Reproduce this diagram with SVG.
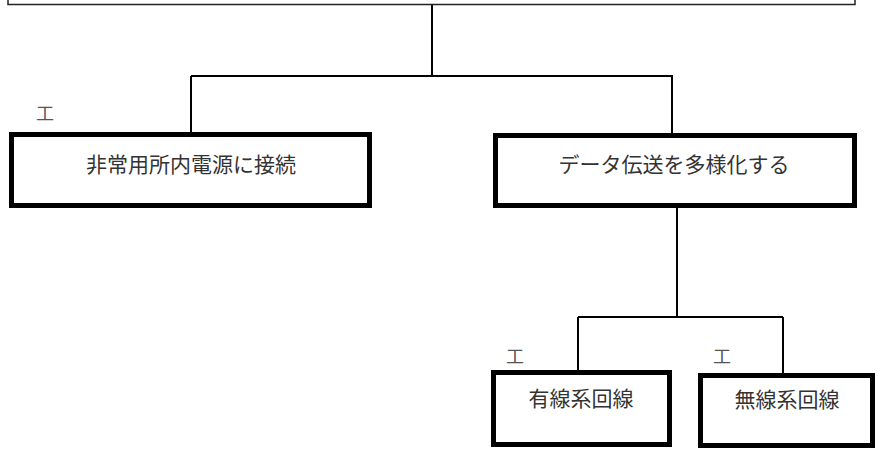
<svg xmlns="http://www.w3.org/2000/svg" width="878" height="450" viewBox="0 0 878 450">
<style>
.bg{fill:#fff}
.top{fill:#fff;stroke:#222;stroke-width:1.5}
.box{fill:#fff;stroke:#000;stroke-width:5}
.con{fill:none;stroke:#000;stroke-width:2}
.t{font-family:"Noto Sans CJK JP","Noto Sans",sans-serif;font-size:21px;fill:#333;text-anchor:middle}
.m{font-family:"Noto Sans CJK JP","Noto Sans",sans-serif;font-size:18px;fill:#555;text-anchor:middle}
</style>
<rect class="bg" x="0" y="0" width="878" height="450"/>
<g id="root"><rect class="top" x="8" y="-20" width="847" height="24.5"/></g>
<g id="connectors">
<path class="con" d="M432 5V76M191 76H673M191 76V132M672 76V133"/>
<path class="con" d="M677 208V317M578 317H783M578 317V370M783 317V373"/>
</g>
<g id="n1">
<text class="m" x="45" y="120">工</text>
<rect class="box" x="11.5" y="134.5" width="358" height="71"/>
<text class="t" x="191" y="172">非常用所内電源に接続</text>
</g>
<g id="n2">
<rect class="box" x="495.5" y="135.5" width="359" height="70"/>
<text class="t" x="674" y="172">データ伝送を多様化する</text>
</g>
<g id="n3">
<text class="m" x="515" y="363">工</text>
<rect class="box" x="493.5" y="372.5" width="176" height="72"/>
<text class="t" x="581" y="406">有線系回線</text>
</g>
<g id="n4">
<text class="m" x="722" y="363">工</text>
<rect class="box" x="700.5" y="375.5" width="172" height="70"/>
<text class="t" x="787" y="407">無線系回線</text>
</g>
</svg>
